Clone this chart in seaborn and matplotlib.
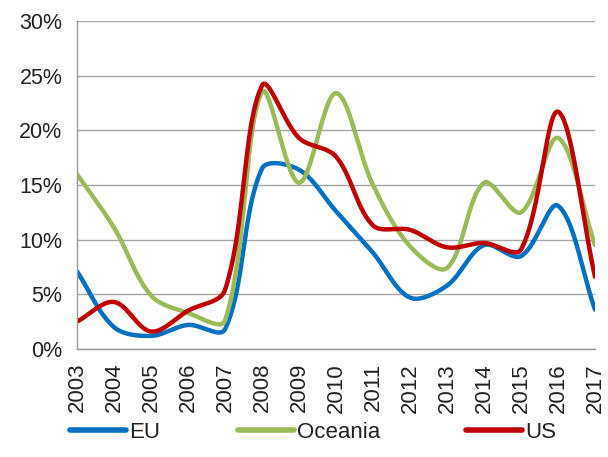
import numpy as np
import pandas as pd
import seaborn as sns
import matplotlib.pyplot as plt
from matplotlib.ticker import PercentFormatter

# values (percent)
years = list(range(2003, 2018))
eu = [7.1, 2.0, 1.2, 2.2, 1.8, 16.5, 16.4, 12.6, 8.8, 4.7, 5.8, 9.5, 8.5, 13.1, 3.6]
oceania = [16.0, 11.1, 4.9, 3.3, 2.6, 23.5, 15.2, 23.4, 15.0, 9.4, 7.4, 15.2, 12.5, 19.3, 9.5]
us = [2.5, 4.3, 1.6, 3.5, 5.4, 24.1, 19.3, 17.6, 11.3, 10.9, 9.3, 9.7, 9.1, 21.7, 6.6]

series = {"EU": eu, "Oceania": oceania, "US": us}
colors = {"EU": "#0070C0", "Oceania": "#9BBB59", "US": "#C00000"}

# pixel size of one year / one percent on the chart, used for the smoothing
XS, YS = 37.0, 10.93


def smooth(x, y, n=40):
    # Excel-like smoothed line: bezier segments, tangents split by segment length
    p = np.column_stack([np.asarray(x, float) * XS, np.asarray(y, float) * YS])
    m = len(p)
    cout = p.copy()
    cin = p.copy()
    for i in range(m):
        a = p[max(i - 1, 0)]
        b = p[min(i + 1, m - 1)]
        d1 = np.linalg.norm(p[i] - a)
        d2 = np.linalg.norm(b - p[i])
        if d1 + d2 == 0:
            continue
        tan = b - a
        cout[i] = p[i] + tan * d2 / (d1 + d2) / 3
        cin[i] = p[i] - tan * d1 / (d1 + d2) / 3
    t = np.linspace(0, 1, n, endpoint=False)[:, None]
    pts = []
    for i in range(m - 1):
        seg = (1 - t) ** 3 * p[i] + 3 * (1 - t) ** 2 * t * cout[i] \
            + 3 * (1 - t) * t ** 2 * cin[i + 1] + t ** 3 * p[i + 1]
        pts.append(seg)
    pts.append(p[-1:])
    pts = np.vstack(pts)
    return pts[:, 0] / XS, pts[:, 1] / YS


rows = []
for name, vals in series.items():
    sx, sy = smooth(years, vals)
    for a, b in zip(sx, sy):
        rows.append({"year": a, "value": b, "region": name})
df = pd.DataFrame(rows)

sns.set_style("white")
plt.rcParams['font.family'] = ['Liberation Sans', 'DejaVu Sans']

fig = plt.figure(figsize=(6.08, 4.57), dpi=100)
ax = fig.add_axes([77 / 608, 1 - 349 / 457, (595 - 77) / 608, (349 - 21) / 457])

sns.lineplot(data=df, x="year", y="value", hue="region", palette=colors,
             linewidth=3.2, sort=False, estimator=None, ax=ax, legend=False)

ax.set_xlim(2003, 2017)
ax.set_ylim(0, 30)
ax.set_xticks(years)
ax.set_xticklabels([str(y) for y in years], rotation=90, fontsize=16, color="#222222")
ax.set_yticks(range(0, 31, 5))
ax.yaxis.set_major_formatter(PercentFormatter(decimals=0))
ax.tick_params(axis="y", labelsize=15.5, colors="#222222", length=7, color="#999999", width=1)
ax.tick_params(axis="x", length=6, color="#999999", width=1, pad=4)
ax.grid(axis="y", color="#A6A6A6", linewidth=1)
ax.set_xlabel("")
ax.set_ylabel("")
for s in ["top", "right"]:
    ax.spines[s].set_visible(False)
for s in ["left", "bottom"]:
    ax.spines[s].set_color("#999999")
    ax.spines[s].set_linewidth(1)

# one legend entry per box so each sits where the reference has it
legend_x = {"EU": 70, "Oceania": 238, "US": 466}
for name in series:
    h = plt.Line2D([], [], color=colors[name], linewidth=4)
    lg = fig.legend([h], [name], loc="center left",
                    bbox_to_anchor=(legend_x[name] / 608, 1 - 432 / 457),
                    frameon=False, fontsize=16, handlelength=2.5, handletextpad=0.15,
                    borderpad=0, borderaxespad=0)
    for txt in lg.get_texts():
        txt.set_color("#222222")

fig.savefig("out.png", dpi=100)
